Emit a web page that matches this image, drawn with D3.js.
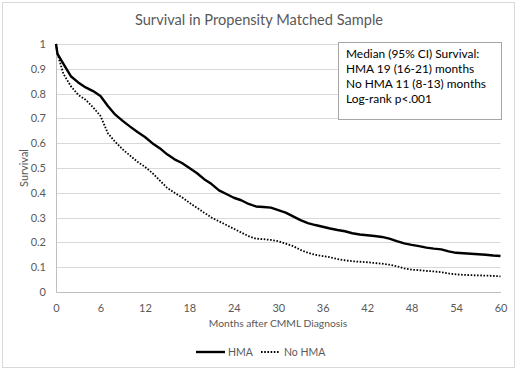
<!DOCTYPE html>
<html><head><meta charset="utf-8">
<script src="https://cdn.jsdelivr.net/npm/d3@7"></script>
<style>body{margin:0;background:#fff}svg{display:block}text{font-family:Lato,"Open Sans",sans-serif}</style>
</head><body><svg id="c" width="520" height="370"></svg>
<script>
const months = [0,0.2,1,2,3,4,5,6,7,8,9,10,11,12,13,14,15,16,17,18,19,20,21,22,23,24,25,26,27,28,29,30,31,32,33,34,35,36,37,38,39,40,41,42,43,44,45,46,47,48,49,50,51,52,53,54,55,56,57,58,59,60];
const hma = [1,0.96,0.92,0.87,0.845,0.825,0.81,0.79,0.75,0.715,0.69,0.667,0.645,0.625,0.6,0.58,0.555,0.535,0.52,0.5,0.48,0.455,0.435,0.41,0.395,0.38,0.37,0.355,0.345,0.343,0.34,0.33,0.32,0.305,0.29,0.278,0.27,0.263,0.256,0.25,0.245,0.237,0.232,0.229,0.226,0.222,0.215,0.205,0.196,0.19,0.185,0.179,0.175,0.172,0.164,0.158,0.156,0.154,0.152,0.15,0.147,0.145];
const noHma = [1,0.96,0.88,0.83,0.795,0.775,0.745,0.71,0.64,0.605,0.575,0.55,0.525,0.505,0.48,0.45,0.42,0.4,0.382,0.36,0.34,0.32,0.3,0.285,0.27,0.255,0.24,0.225,0.215,0.213,0.21,0.205,0.195,0.185,0.17,0.158,0.15,0.145,0.14,0.133,0.128,0.124,0.122,0.12,0.117,0.114,0.11,0.104,0.095,0.09,0.088,0.085,0.083,0.08,0.075,0.071,0.069,0.068,0.067,0.066,0.065,0.063];
const xTicks = [0,6,12,18,24,30,36,42,48,54,60];
const yTicks = [0,0.1,0.2,0.3,0.4,0.5,0.6,0.7,0.8,0.9,1];
const seriesNames = ["HMA","No HMA"];
const title = "Survival in Propensity Matched Sample";
const xLabel = "Months after CMML Diagnosis";
const yLabel = "Survival";
const noteLines = ["Median (95% CI) Survival:","HMA 19 (16-21) months","No HMA 11 (8-13) months","Log-rank p<.001"];

const svg = d3.select("#c");
svg.append("rect").attr("x",2.5).attr("y",2.5).attr("width",512).attr("height",365).attr("fill","#fff").attr("stroke","#d9d9d9");

const x = d3.scaleLinear().domain([0,60]).range([56,500.5]);
const y = d3.scaleLinear().domain([0,1]).range([292,44]);

svg.append("text").attr("x",259).attr("y",25).attr("text-anchor","middle").attr("font-size",14.6).attr("fill","#595959").text(title);

// gridlines
svg.append("g").selectAll("line").data(yTicks.filter(d=>d>0)).join("line")
  .attr("x1",x(0)).attr("x2",x(60)).attr("y1",d=>Math.round(y(d))+0.5).attr("y2",d=>Math.round(y(d))+0.5)
  .attr("stroke","#d9d9d9").attr("stroke-width",1);

const yAxis = svg.append("g").attr("transform",`translate(${x(0)},0)`)
  .call(d3.axisLeft(y).tickValues(yTicks).tickSize(0).tickPadding(10).tickFormat(d=>d3.format("")(d)));
yAxis.select(".domain").attr("stroke","#bfbfbf");
yAxis.selectAll("text").attr("fill","#595959").attr("font-size",11).style("font-family","Lato, sans-serif");

const xAxis = svg.append("g").attr("transform",`translate(0,${y(0)})`)
  .call(d3.axisBottom(x).tickValues(xTicks).tickSize(0).tickPadding(12));
xAxis.select(".domain").attr("stroke","#bfbfbf");
xAxis.selectAll("text").attr("fill","#595959").attr("font-size",11).style("font-family","Lato, sans-serif");

svg.append("text").attr("x",278).attr("y",327).attr("text-anchor","middle").attr("font-size",10.3).attr("fill","#595959").text(xLabel);
svg.append("text").attr("transform","translate(28,168) rotate(-90)").attr("text-anchor","middle").attr("font-size",11).attr("fill","#595959").text(yLabel);

const line = d3.line().x(d=>x(d[0])).y(d=>y(d[1]));
svg.append("path").datum(months.map((m,i)=>[m,noHma[i]])).attr("d",line).attr("fill","none")
  .attr("stroke","#000").attr("stroke-width",1.8).attr("stroke-dasharray","1.6,1.6");
svg.append("path").datum(months.map((m,i)=>[m,hma[i]])).attr("d",line).attr("fill","none")
  .attr("stroke","#000").attr("stroke-width",2.4).attr("stroke-linejoin","round");

// annotation box
svg.append("rect").attr("x",338.5).attr("y",42.5).attr("width",163).attr("height",77).attr("fill","#fff").attr("stroke","#a6a6a6");
svg.append("g").selectAll("text").data(noteLines).join("text")
  .attr("x",346).attr("y",(d,i)=>58+i*15).attr("font-size",11.9).attr("fill","#000").text(d=>d);

// legend
const lg = svg.append("g");
lg.append("line").attr("x1",196).attr("x2",225).attr("y1",352).attr("y2",352).attr("stroke","#000").attr("stroke-width",2.4);
lg.append("text").attr("x",228).attr("y",356).attr("font-size",10.5).attr("fill","#595959").text(seriesNames[0]);
lg.append("line").attr("x1",261).attr("x2",280).attr("y1",352).attr("y2",352).attr("stroke","#000").attr("stroke-width",1.8).attr("stroke-dasharray","1.6,1.6");
lg.append("text").attr("x",284).attr("y",356).attr("font-size",10.5).attr("fill","#595959").text(seriesNames[1]);
</script></body></html>
